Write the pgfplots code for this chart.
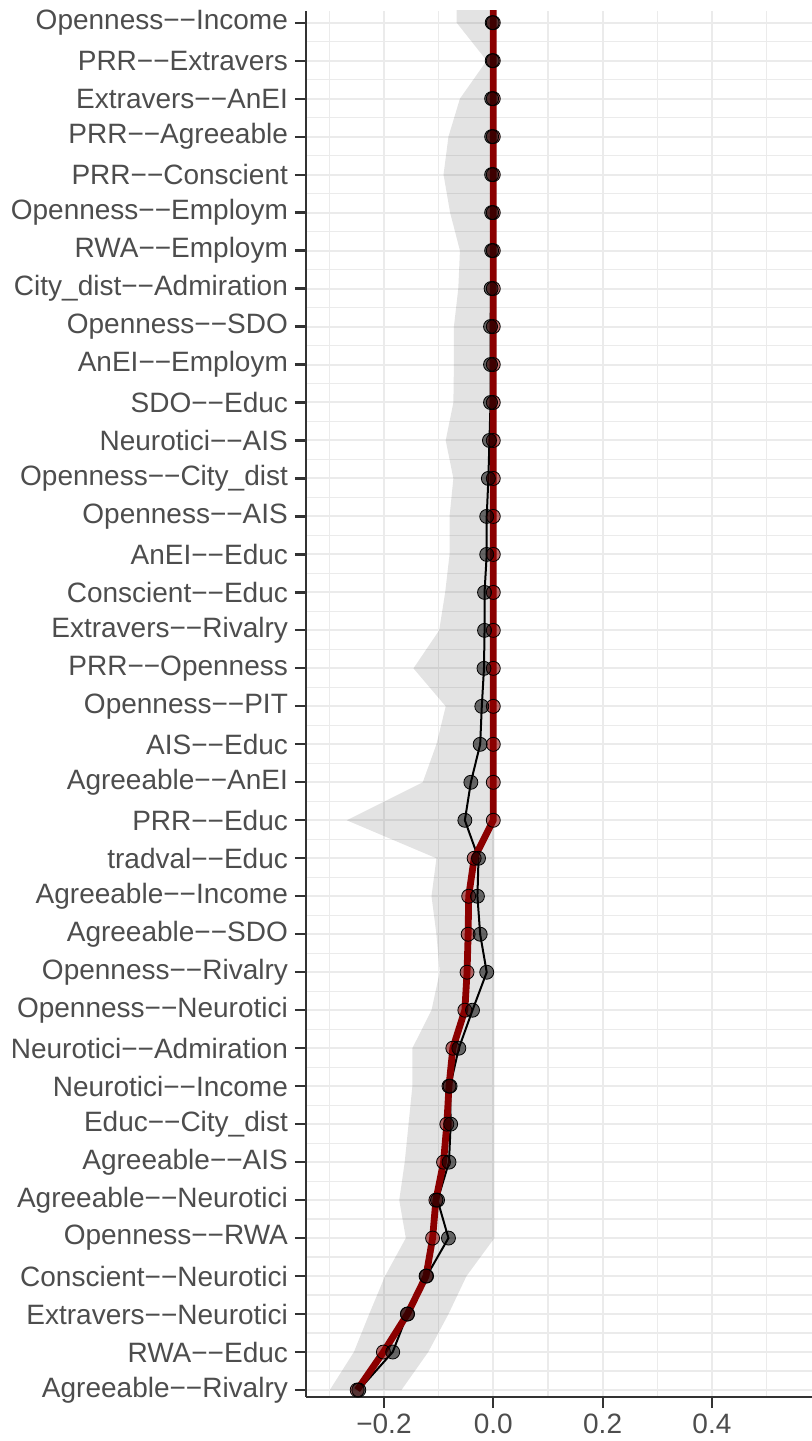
\documentclass[border=0pt]{standalone}
\usepackage{fontspec}
\setmainfont{Liberation Sans}
\usepackage{pgfplots}
\usepackage{pgfplotstable}
\pgfplotsset{compat=1.18}
\usepgfplotslibrary{fillbetween}
\definecolor{darkred}{HTML}{8B0000}
\definecolor{gridc}{HTML}{EBEBEB}
\definecolor{axc}{HTML}{333333}
\definecolor{txt}{HTML}{4D4D4D}

\pgfplotstableread{
y lo hi blk red
38 -0.067 0.002 -0.002 0
37 -0.067 0.002 -0.002 0
36 -0.012 0.002 -0.002 0
35 -0.061 0.002 -0.003 0
34 -0.082 0.002 -0.003 0
33 -0.091 0.002 -0.003 0
32 -0.079 0.002 -0.003 0
31 -0.061 0.002 -0.003 0
30 -0.064 0.002 -0.004 0
29 -0.072 0.002 -0.005 0
28 -0.072 0.002 -0.005 0
27 -0.073 0.002 -0.005 0
26 -0.087 0.002 -0.007 0
25 -0.073 0.002 -0.009 0
24 -0.080 0.002 -0.012 0
23 -0.080 0.002 -0.012 0
22 -0.088 0.002 -0.016 0
21 -0.099 0.002 -0.016 0
20 -0.146 0.002 -0.017 0
19 -0.087 0.002 -0.021 0
18 -0.104 0.002 -0.024 0
17 -0.129 0.002 -0.041 0
16 -0.268 0.002 -0.052 0
15 -0.104 0.002 -0.027 -0.035
14 -0.113 0.002 -0.029 -0.045
13 -0.104 0.002 -0.024 -0.046
12 -0.098 0.002 -0.012 -0.048
11 -0.113 0.002 -0.038 -0.052
10 -0.148 0.002 -0.063 -0.074
9 -0.148 0.002 -0.079 -0.081
8 -0.155 0.002 -0.078 -0.085
7 -0.162 0.002 -0.081 -0.091
6 -0.172 0.002 -0.102 -0.105
5 -0.160 0.002 -0.082 -0.111
4 -0.198 -0.049 -0.122 -0.123
3 -0.227 -0.082 -0.157 -0.157
2 -0.255 -0.119 -0.184 -0.201
1 -0.299 -0.168 -0.246 -0.249
}\data

\begin{document}
\begin{tikzpicture}
\begin{axis}[name=ax, scale only axis, width=253pt, height=693pt,
  xmin=-0.3426, xmax=0.583, ymin=0.816, ymax=37.308,
  axis lines*=left, axis line style={-, draw=axc, line width=1.1pt},
  xtick={-0.2,0,0.2,0.4}, xticklabels={−0.2,0.0,0.2,0.4},
  minor xtick={-0.3,-0.1,0.1,0.3,0.5},
  ytick={1,...,37},
  yticklabels={Agreeable−−Rivalry,RWA−−Educ,Extravers−−Neurotici,Conscient−−Neurotici,Openness−−RWA,Agreeable−−Neurotici,Agreeable−−AIS,Educ−−City\_dist,Neurotici−−Income,Neurotici−−Admiration,Openness−−Neurotici,Openness−−Rivalry,Agreeable−−SDO,Agreeable−−Income,tradval−−Educ,PRR−−Educ,Agreeable−−AnEI,AIS−−Educ,Openness−−PIT,PRR−−Openness,Extravers−−Rivalry,Conscient−−Educ,AnEI−−Educ,Openness−−AIS,Openness−−City\_dist,Neurotici−−AIS,SDO−−Educ,AnEI−−Employm,Openness−−SDO,City\_dist−−Admiration,RWA−−Employm,Openness−−Employm,PRR−−Conscient,PRR−−Agreeable,Extravers−−AnEI,PRR−−Extravers,Openness−−Income},
  minor ytick={1.5,2.5,...,36.5},
  grid=both,
  major grid style={draw=gridc, line width=1pt},
  minor grid style={draw=gridc, line width=0.6pt},
  tick align=outside, major tick length=5.5pt, minor tick length=0pt,
  tick style={draw=axc, line width=1.1pt},
  tick label style={font=\fontsize{14}{16}\selectfont, text=txt},
  yticklabel style={anchor=east, inner sep=0pt, xshift=-3.35pt},
  xticklabel style={anchor=base, inner sep=0pt, yshift=-12.5pt},
]
\addplot[name path=lo, draw=none] table[x=lo, y=y] {\data};
\addplot[name path=hi, draw=none] table[x=hi, y=y] {\data};
\addplot[fill=black, fill opacity=0.11, draw=none] fill between[of=lo and hi];
\addplot[draw=black, line width=1pt, no marks] table[x=blk, y=y] {\data};
\addplot[draw=darkred, line width=3.4pt, line join=round, no marks] table[x=red, y=y] {\data};
\addplot[only marks, mark=*, mark size=3.5pt, mark options={draw=none, fill=darkred, fill opacity=0.55}] table[x=red, y=y] {\data};
\addplot[only marks, mark=*, mark size=3.5pt, mark options={draw=none, fill=black, fill opacity=0.55}] table[x=blk, y=y] {\data};
\end{axis}
\pgfresetboundingbox
\useasboundingbox ([shift={(-153pt,-22pt)}]ax.south west) rectangle ([shift={(0pt,5.5pt)}]ax.north east);
\end{tikzpicture}
\end{document}
